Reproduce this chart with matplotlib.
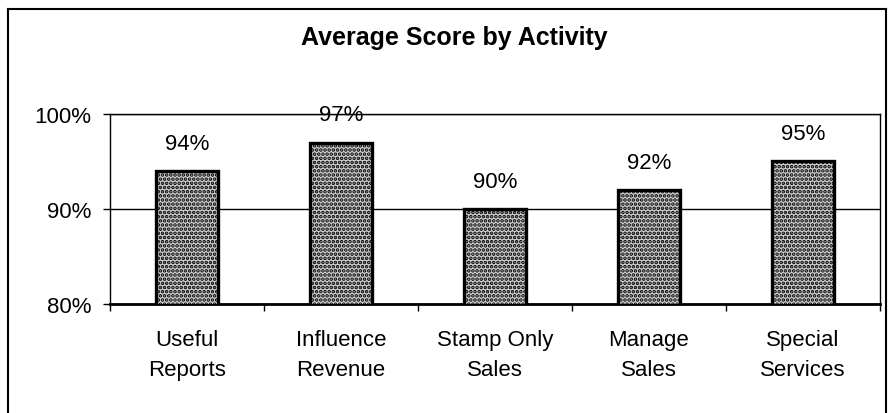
import matplotlib
matplotlib.use("Agg")
import matplotlib.pyplot as plt
from matplotlib.lines import Line2D
import numpy as np

categories = ["Useful\nReports", "Influence\nRevenue", "Stamp Only\nSales", "Manage\nSales", "Special\nServices"]
scores = [94, 97, 90, 92, 95]
y_ticks = [80, 90, 100]
y_tick_labels = ["80%", "90%", "100%"]
title = "Average Score by Activity"

plt.rcParams['font.family'] = ['Liberation Sans', 'DejaVu Sans']
plt.rcParams['hatch.color'] = '#2e2e2e'
plt.rcParams['hatch.linewidth'] = 1.8

W, H = 889, 414
fig = plt.figure(figsize=(W / 100, H / 100), dpi=100)

ax_l, ax_r, ax_t, ax_b = 110, 880, 115, 305
ax = fig.add_axes([ax_l / W, 1 - ax_b / H, (ax_r - ax_l) / W, (ax_b - ax_t) / H])

x = np.arange(len(categories))
bars = ax.bar(x, scores, width=0.40, bottom=0, facecolor='#cfcfcf',
              edgecolor='black', linewidth=2.4, hatch='....', zorder=3)

ax.set_ylim(80, 100)
ax.set_xlim(-0.5, len(categories) - 0.5)
ax.set_yticks(y_ticks)
ax.set_yticklabels(y_tick_labels, fontsize=16)
ax.yaxis.grid(True, color='black', linewidth=1.0, zorder=1)
ax.set_axisbelow(True)

ax.set_xticks(np.arange(len(categories) + 1) - 0.5)
ax.set_xticklabels([])
ax.set_xticks(x, minor=True)
ax.set_xticklabels(categories, minor=True, fontsize=16, linespacing=1.55)
ax.tick_params(axis='x', which='minor', length=0, pad=18)
ax.tick_params(axis='x', which='major', length=5, width=1, direction='out')
ax.tick_params(axis='y', length=5, width=1, direction='out', pad=8.5)

for s in ax.spines.values():
    s.set_color('black')
    s.set_linewidth(1.0)
ax.spines['bottom'].set_linewidth(2.0)

for xi, v in zip(x, scores):
    ax.annotate(f"{v}%", xy=(xi, v), xytext=(0, 20), textcoords='offset points',
                ha='center', va='center', fontsize=16, clip_on=False, zorder=5)

fig.text(454 / W, 1 - 38 / H, title, ha='center', va='center',
         fontsize=18, fontweight='bold')

# outer chart frame
fl, ft, fr = 8, 10, 886
fig.add_artist(Line2D([fl / W, fl / W], [0, 1 - ft / H], transform=fig.transFigure, color='black', lw=1.5))
fig.add_artist(Line2D([fl / W, fr / W], [1 - ft / H, 1 - ft / H], transform=fig.transFigure, color='black', lw=1.5))
fig.add_artist(Line2D([fr / W, fr / W], [0, 1 - ft / H], transform=fig.transFigure, color='black', lw=1.5))

fig.savefig("out.png", dpi=100)
